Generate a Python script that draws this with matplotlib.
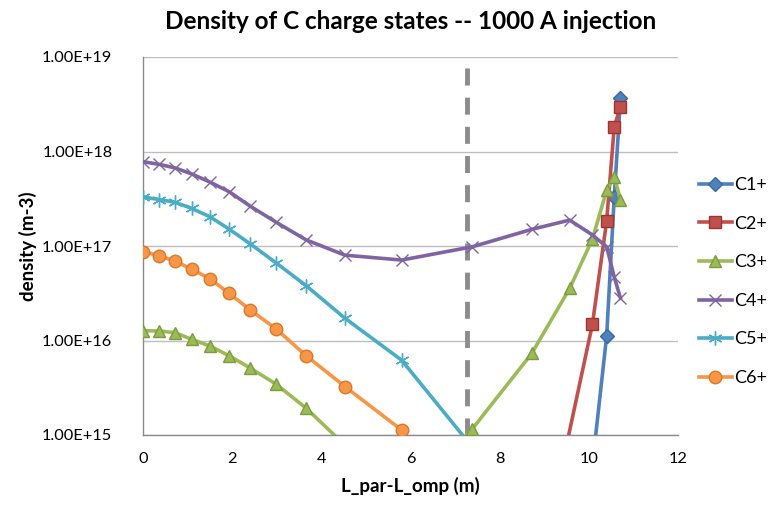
import matplotlib
matplotlib.use("Agg")
import matplotlib.pyplot as plt
from matplotlib.ticker import FixedLocator, FuncFormatter, NullLocator

plt.rcParams["font.family"] = ["Lato", "DejaVu Sans"]

# positions along the field line (m)
x_all = [0, 0.37, 0.72, 1.09, 1.5, 1.93, 2.41, 2.99, 3.66, 4.53, 5.8,
         7.38, 8.72, 9.57, 10.08, 10.4, 10.57, 10.71]

c1_x = [10.08, 10.4, 10.57, 10.71]
c1_y = [4.8e14, 1.12e16, 3.3e17, 3.66e18]

c2_x = [8.72, 10.08, 10.4, 10.57, 10.71]
c2_y = [1.5e13, 1.48e16, 1.84e17, 1.83e18, 2.98e18]

c3_x = x_all
c3_y = [1.27e16, 1.26e16, 1.21e16, 1.03e16, 8.75e15, 6.9e15, 5.1e15, 3.44e15,
        1.92e15, 7.8e14, 2.0e14, 1.15e15, 7.3e15, 3.56e16, 1.18e17, 3.9e17,
        5.4e17, 3.1e17]

c4_x = x_all
c4_y = [7.8e17, 7.3e17, 6.7e17, 5.8e17, 4.75e17, 3.76e17, 2.63e17, 1.78e17,
        1.16e17, 8.0e16, 7.1e16, 9.8e16, 1.5e17, 1.88e17, 1.31e17, 9.8e16,
        4.7e16, 2.8e16]

c5_x = x_all[:12]
c5_y = [3.3e17, 3.1e17, 2.9e17, 2.5e17, 2.04e17, 1.51e17, 1.05e17, 6.6e16,
        3.8e16, 1.72e16, 6.2e15, 7.5e14]

c6_x = x_all[:11]
c6_y = [8.7e16, 7.9e16, 6.9e16, 5.7e16, 4.5e16, 3.16e16, 2.1e16, 1.32e16,
        6.9e15, 3.25e15, 1.13e15]

separatrix_x = 7.27

x_ticks = [0, 2, 4, 6, 8, 10, 12]
y_ticks = [1e15, 1e16, 1e17, 1e18, 1e19]

series = [
    ("C1+", c1_x, c1_y, "#4F81BD", "#3A6A9E", "D", 7),
    ("C2+", c2_x, c2_y, "#C0504D", "#9C3532", "s", 8),
    ("C3+", c3_x, c3_y, "#9BBB59", "#7C9A3E", "^", 9),
    ("C4+", c4_x, c4_y, "#8064A2", "#8064A2", "x", 9),
    ("C5+", c5_x, c5_y, "#4BACC6", "#4BACC6", (6, 2, 0), 10),
    ("C6+", c6_x, c6_y, "#F79646", "#D9782A", "o", 9),
]

fig = plt.figure(figsize=(7.7, 5.09), dpi=100)
ax = fig.add_axes([143 / 770, 74 / 509, 535 / 770, 378 / 509])

for label, xs, ys, color, edge, marker, ms in series:
    ax.plot(xs, ys, color=color, linewidth=2.6, marker=marker, markersize=ms,
            markerfacecolor=color, markeredgecolor=edge, markeredgewidth=1.0,
            label=label, clip_on=True, zorder=3)

# separatrix
ax.axvline(separatrix_x, color="#8C8C8C", linewidth=3.5,
           linestyle=(0, (3.5, 2.5)), zorder=2)

ax.set_yscale("log")
ax.set_ylim(1e15, 1e19)
ax.set_xlim(0, 12)
ax.yaxis.set_major_locator(FixedLocator(y_ticks))
ax.yaxis.set_minor_locator(NullLocator())
ax.yaxis.set_major_formatter(FuncFormatter(lambda v, p: f"{v:.2E}"))
ax.set_xticks(x_ticks)

ax.grid(axis="y", color="#BEBEBE", linewidth=1.0, zorder=0)
ax.set_axisbelow(True)
for side in ["top", "right"]:
    ax.spines[side].set_visible(False)
for side in ["left", "bottom"]:
    ax.spines[side].set_color("#8A8A8A")
    ax.spines[side].set_linewidth(1.0)
ax.tick_params(axis="both", length=0, labelsize=11.8, colors="#000000")
ax.tick_params(axis="y", pad=22)
ax.tick_params(axis="x", pad=12)

ax.set_title("Density of C charge states -- 1000 A injection",
             fontsize=17.5, fontweight="bold", pad=20)
ax.set_xlabel("L_par-L_omp (m)", fontsize=13.5, fontweight="bold", labelpad=8)
ax.set_ylabel("density (m-3)", fontsize=13.5, fontweight="bold", labelpad=4)

fig.legend(loc="upper left", bbox_to_anchor=(692 / 770, 1 - 170 / 509),
           frameon=False, fontsize=13, handlelength=1.8, handletextpad=0.15,
           labelspacing=1.25, borderaxespad=0)

fig.savefig("out.png", dpi=100)
